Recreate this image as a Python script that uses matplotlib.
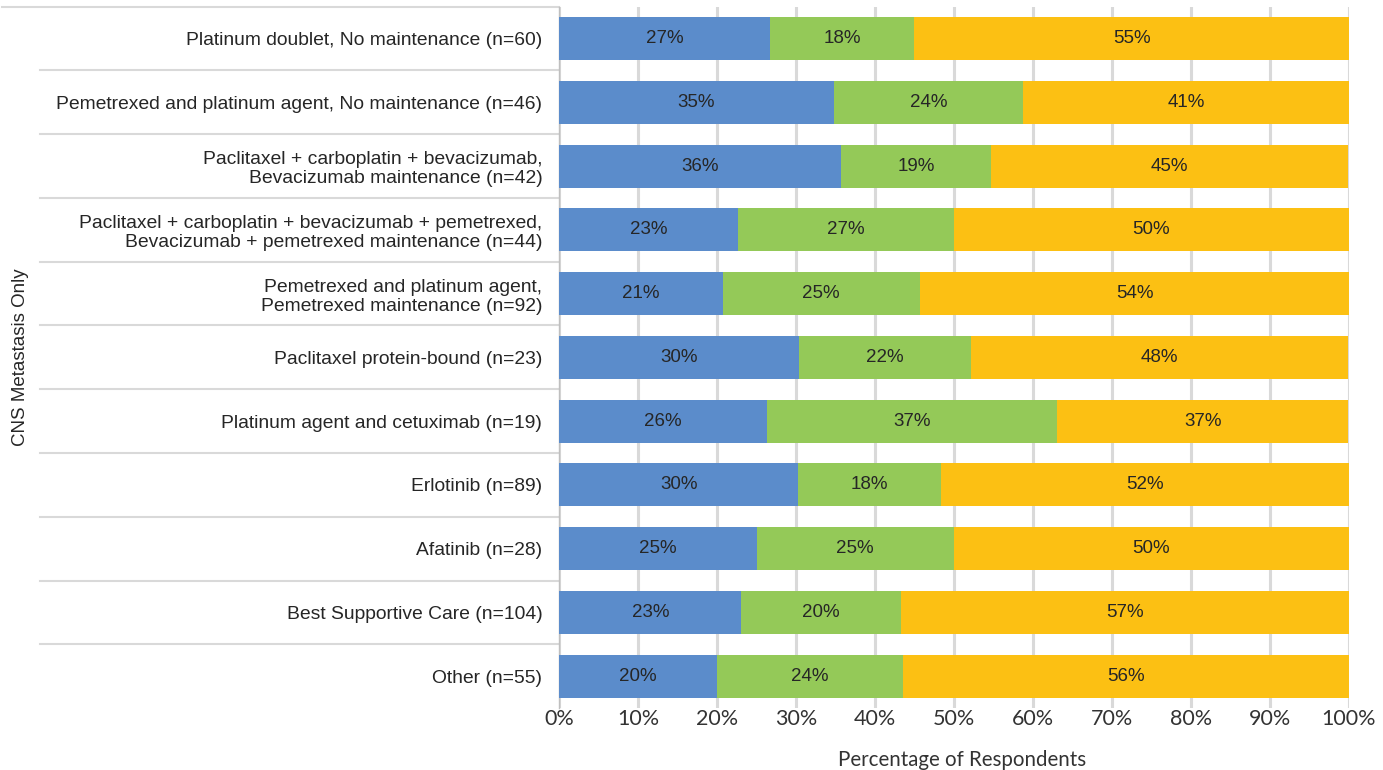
import matplotlib
matplotlib.use('Agg')
import matplotlib.pyplot as plt
import numpy as np

categorias = [
    'Platinum doublet, No maintenance (n=60)',
    'Pemetrexed and platinum agent, No maintenance (n=46)',
    'Paclitaxel + carboplatin + bevacizumab,\nBevacizumab maintenance (n=42)',
    'Paclitaxel + carboplatin + bevacizumab + pemetrexed,\nBevacizumab + pemetrexed maintenance (n=44)',
    'Pemetrexed and platinum agent,\nPemetrexed maintenance (n=92)',
    'Paclitaxel protein-bound (n=23)',
    'Platinum agent and cetuximab (n=19)',
    'Erlotinib (n=89)',
    'Afatinib (n=28)',
    'Best Supportive Care (n=104)',
    'Other (n=55)',
]
azul = [26.7, 34.8, 35.7, 22.7, 20.7, 30.4, 26.3, 30.3, 25.0, 23.1, 20.0]
verde = [18.3, 23.9, 19.0, 27.3, 25.0, 21.7, 36.8, 18.0, 25.0, 20.2, 23.6]
amarelo = [55.0, 41.3, 45.2, 50.0, 54.3, 47.8, 36.8, 51.7, 50.0, 56.7, 56.4]
ticks_x = [0, 10, 20, 30, 40, 50, 60, 70, 80, 90, 100]

cores = ['#5B8CCB', '#94C958', '#FCC013']
plt.rcParams['font.family'] = ['Liberation Sans', 'DejaVu Sans']

fig = plt.figure(figsize=(13.83, 7.70), dpi=100)
ax = fig.add_axes([0.4042, 0.0805, 0.5712, 0.9108])

y = np.arange(len(categorias))
esquerda = np.zeros(len(categorias))
for serie, cor in zip([azul, verde, amarelo], cores):
    vals = np.array(serie)
    ax.barh(y, vals, left=esquerda, height=0.675, color=cor, zorder=3)
    for yi, l, v in zip(y, esquerda, vals):
        ax.text(l + v / 2, yi, f'{round(v):.0f}%', ha='center', va='center',
                fontsize=13.5, color='#262626', zorder=4)
    esquerda += vals

ax.set_xlim(0, 100)
ax.set_ylim(len(categorias) - 0.5, -0.5)
ax.set_yticks(y)
ax.set_yticklabels(categorias, fontsize=13.9, color='#262626', ha='right',
                   linespacing=1.15)
ax.tick_params(axis='y', length=0, pad=12)
ax.set_xticks(ticks_x)
ax.set_xticklabels([f'{t}%' for t in ticks_x], fontsize=15.5, color='#333333', family='Lato')
ax.tick_params(axis='x', length=0, pad=1)
ax.grid(axis='x', color='#D9D9D9', linewidth=2.2, zorder=0)
ax.set_xlabel('Percentage of Respondents', fontsize=14.8, color='#333333', family='Lato')
ax.xaxis.set_label_coords(0.51, -0.06)
ax.set_ylabel('CNS Metastasis Only', fontsize=13.5, color='#262626')
ax.yaxis.set_label_coords(-0.671, 0.5)

for s in ['top', 'right', 'bottom']:
    ax.spines[s].set_visible(False)
ax.spines['left'].set_color('#BFBFBF')
ax.spines['left'].set_linewidth(1)

# linhas separando as categorias
trans = ax.get_yaxis_transform()
for i in range(len(categorias)):
    x0 = -0.705 if i == 0 else -0.657
    ax.plot([x0, 0], [i - 0.5, i - 0.5], transform=trans, color='#D9D9D9',
            linewidth=1.5, clip_on=False)

plt.savefig('out.png', dpi=100)
